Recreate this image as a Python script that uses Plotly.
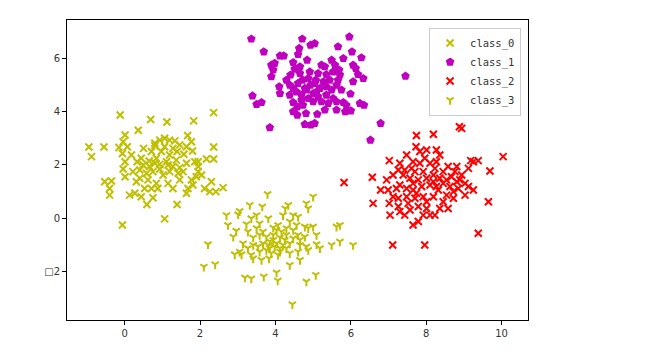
import plotly.graph_objects as go

# ---- data ----
class_0_x = [-0.12, 0.69, 1.12, 1.83, 2.36, 0.36, 0.01, -0.04, 1.67, -0.95,
             -0.88, -0.55, -0.15, 0.07, -0.06, 0.50, 0.80, 0.93, 1.06, 1.19,
             1.33, 1.46, 1.64, 1.77, 2.36, 0.97, 1.19, 1.39, 1.57, 1.80,
             1.95, 2.17, 2.36, 0.01, 0.33, 0.49, 0.65, 0.80, 0.93, 1.11,
             1.28, 1.46, 1.64, 1.86, -0.04, 0.01, 0.40, 0.58, 0.75, 0.93,
             1.19, 1.42, 1.95, 2.04, -0.53, -0.35, -0.40, -0.40, 0.40, 0.62,
             0.84, 0.88, 1.15, 1.77, 1.81, 1.68, 2.30, 2.26, 2.42, 2.61,
             0.27, 0.44, 0.75, 0.59, 1.39, 1.64, -0.06, 1.06, 0.71, 1.28,
             1.02, 0.66, 0.22, 0.44, 1.06, 1.28, 1.15, 1.95, 2.12, 1.90,
             0.18, 0.71, 1.37, 0.13, 1.46, 0.53, 0.84, 1.55, 0.31, 0.80]
class_0_y = [3.87, 3.70, 3.61, 3.65, 3.96, 3.30, 3.12, 2.87, 3.10, 2.67,
             2.31, 2.67, 2.65, 2.68, 2.43, 2.62, 2.72, 2.93, 3.00, 2.93,
             2.90, 2.75, 2.68, 2.87, 2.67, 2.50, 2.37, 2.50, 2.40, 2.52,
             2.12, 2.22, 2.22, 2.12, 2.12, 2.00, 2.15, 2.06, 2.02, 2.12,
             1.94, 1.90, 2.06, 2.12, 1.85, 1.56, 1.81, 1.69, 1.75, 1.85,
             1.75, 1.69, 1.75, 1.62, 1.37, 1.40, 1.12, 0.87, 1.50, 1.44,
             1.31, 1.12, 1.31, 1.44, 1.25, 1.12, 1.37, 1.00, 1.00, 1.15,
             0.94, 0.81, 0.77, 0.52, 0.52, 0.94, -0.25, -0.02, 1.12, 1.12,
             1.62, 1.94, 1.75, 2.25, 2.68, 2.62, 2.00, 1.94, 1.12, 1.56,
             2.37, 2.50, 2.18, 0.87, 1.44, 1.12, 2.25, 1.75, 1.37, 2.81]

class_1_x = [3.36, 4.71, 5.04, 4.93, 5.96, 5.66, 3.69, 4.12, 4.22, 4.63,
             4.60, 6.03, 6.28, 3.89, 3.98, 4.47, 4.84, 5.22, 5.31, 5.49,
             5.58, 6.06, 6.13, 3.89, 3.94, 4.40, 4.51, 4.65, 4.72, 4.87,
             5.07, 5.13, 5.35, 5.53, 5.71, 5.69, 6.19, 6.33, 7.45, 4.10,
             4.38, 4.47, 4.60, 4.78, 4.93, 5.04, 5.18, 5.35, 5.49, 5.62,
             5.66, 4.38, 4.69, 4.87, 5.00, 5.13, 5.35, 5.53, 5.62, 5.80,
             5.99, 3.39, 3.50, 3.63, 4.47, 4.58, 4.73, 5.22, 5.40, 6.24,
             6.35, 4.58, 4.81, 5.11, 5.62, 5.85, 6.00, 4.78, 5.04, 4.94,
             3.85, 6.79, 6.52, 4.69, 5.00, 5.27, 4.91, 4.56, 5.44, 5.75,
             4.29, 4.82, 5.09, 5.31, 4.47, 5.88, 4.65, 4.12, 5.80, 6.06]
class_1_y = [6.72, 6.72, 6.55, 6.49, 6.80, 6.43, 6.24, 6.09, 6.09, 6.37,
             6.14, 6.24, 6.02, 5.74, 5.81, 5.84, 5.93, 5.74, 5.68, 5.93,
             5.74, 5.74, 5.62, 5.31, 5.56, 5.37, 5.59, 5.43, 5.18, 5.24,
             5.18, 5.43, 5.39, 5.49, 5.37, 5.56, 5.39, 5.24, 5.33, 4.93,
             4.99, 4.87, 5.06, 4.87, 4.99, 5.06, 4.87, 4.93, 4.81, 4.99,
             5.18, 4.62, 4.62, 4.49, 4.68, 4.56, 4.62, 4.49, 4.37, 4.34,
             4.66, 4.59, 4.27, 4.34, 4.34, 4.18, 4.24, 4.37, 4.31, 4.31,
             4.24, 3.87, 3.93, 3.90, 4.06, 4.00, 4.03, 3.52, 3.56, 3.50,
             3.40, 3.56, 2.93, 4.43, 4.37, 5.12, 5.49, 4.74, 5.18, 4.81,
             5.18, 4.81, 4.74, 4.06, 4.00, 4.24, 5.68, 4.68, 5.99, 5.12]

class_2_x = [8.88, 8.94, 7.74, 8.19, 7.73, 8.01, 8.27, 8.36, 9.18, 9.38,
             10.04, 7.02, 7.48, 7.65, 7.83, 8.10, 7.26, 7.43, 7.61, 7.92,
             8.19, 8.45, 8.58, 8.81, 9.12, 9.69, 6.57, 6.95, 7.12, 7.57,
             7.79, 8.01, 8.36, 8.67, 8.89, 9.03, 5.82, 6.79, 6.99, 7.30,
             7.48, 7.65, 7.88, 8.10, 8.27, 8.45, 8.63, 8.85, 9.12, 9.25,
             6.59, 7.02, 7.26, 7.48, 7.70, 7.92, 8.19, 8.54, 8.72, 9.03,
             7.04, 7.30, 7.57, 7.79, 8.01, 8.23, 8.36, 7.65, 7.79, 9.65,
             7.11, 7.96, 9.38, 7.21, 7.39, 7.70, 7.96, 8.23, 8.54, 8.76,
             7.52, 8.01, 8.32, 7.74, 8.94, 9.25, 7.26, 8.45, 8.10, 7.12,
             7.83, 7.65, 8.72, 8.19, 7.92, 7.43, 8.27, 8.58, 8.81, 7.30]
class_2_y = [3.43, 3.37, 3.10, 3.15, 2.68, 2.56, 2.56, 2.37, 2.16, 2.16,
             2.31, 2.16, 2.37, 2.12, 2.06, 2.06, 1.81, 1.81, 1.87, 1.75,
             1.62, 1.75, 1.94, 1.94, 1.87, 1.77, 1.54, 1.44, 1.62, 1.50,
             1.44, 1.50, 1.50, 1.56, 1.44, 1.31, 1.34, 1.06, 1.06, 1.25,
             1.12, 1.06, 1.19, 1.25, 1.19, 1.31, 1.19, 1.12, 1.19, 1.06,
             0.56, 0.56, 0.75, 0.81, 0.75, 0.81, 0.81, 0.87, 0.75, 0.87,
             0.12, 0.25, 0.31, 0.44, 0.37, 0.12, 0.37, -0.25, -0.12, 0.62,
             -1.00, -1.00, -0.56, 1.12, 1.62, 1.75, 2.25, 1.87, 1.44, 1.75,
             0.56, 0.62, 1.06, 0.94, 1.62, 2.12, 0.44, 0.62, 0.12, 0.81,
             2.50, 1.31, 1.00, 1.37, 0.12, 0.12, 2.12, 0.37, 1.37, 2.06]

class_3_x = [3.79, 5.00, 4.82, 3.32, 3.65, 4.34, 4.26, 3.05, 2.70, 3.01,
             3.81, 4.20, 4.47, 4.60, 4.87, 2.74, 3.23, 3.36, 3.58, 4.38,
             4.56, 4.78, 5.00, 2.96, 2.88, 3.27, 3.50, 3.94, 4.03, 4.16,
             4.47, 5.62, 5.71, 3.41, 3.76, 3.94, 4.12, 4.29, 4.60, 4.78,
             5.09, 2.21, 3.14, 3.41, 3.67, 3.85, 4.03, 4.20, 4.38, 4.65,
             4.82, 5.09, 5.18, 5.49, 5.71, 6.06, 2.92, 3.10, 3.36, 3.58,
             3.76, 3.89, 4.07, 4.29, 4.60, 4.87, 3.41, 3.63, 4.65, 2.10,
             2.40, 4.38, 3.19, 3.36, 3.69, 4.03, 4.06, 4.82, 5.07, 4.45,
             3.85, 3.98, 4.12, 3.81, 3.94, 4.25, 3.54, 3.67, 4.07, 4.47,
             3.50, 3.05, 4.12, 4.87, 4.38, 3.83, 3.27, 4.29, 4.65, 3.58]
class_3_y = [0.91, 0.81, 0.56, 0.50, 0.44, 0.50, 0.37, 0.27, 0.12, 0.15,
             0.00, 0.12, 0.12, 0.06, 0.37, -0.25, -0.22, 0.00, -0.19, -0.12,
             -0.25, -0.31, -0.31, -0.47, -0.69, -0.50, -0.37, -0.35, -0.44, -0.50,
             -0.44, -0.31, -0.25, -0.72, -0.69, -0.62, -0.72, -0.62, -0.62, -0.69,
             -0.62, -0.97, -0.94, -1.00, -0.94, -0.87, -0.94, -1.00, -0.94, -1.00,
             -1.06, -0.97, -1.12, -1.00, -0.87, -1.00, -1.35, -1.35, -1.37, -1.25,
             -1.19, -1.31, -1.37, -1.12, -1.25, -1.19, -1.50, -1.56, -1.56, -1.81,
             -1.72, -1.75, -2.22, -2.25, -2.18, -2.03, -2.33, -2.37, -2.12, -3.22,
             -1.12, -1.06, -1.12, -1.00, -0.81, -0.81, -1.06, -0.50, -0.25, -0.75,
             0.12, -1.25, -1.25, -0.37, -1.31, -1.50, -1.12, -0.37, -0.81, -0.62]

x_tick_vals = [0, 2, 4, 6, 8, 10]
x_tick_text = ["0", "2", "4", "6", "8", "10"]
y_tick_vals = [-2, 0, 2, 4, 6]
y_tick_text = ["\u25a12", "0", "2", "4", "6"]

OLIVE = "rgb(191,191,0)"
MAGENTA = "rgb(191,0,191)"
RED = "rgb(255,0,0)"

fig = go.Figure()
fig.add_trace(go.Scatter(
    x=class_0_x, y=class_0_y, mode="markers", name="class_0",
    marker=dict(symbol="x-thin", size=7, color=OLIVE,
                line=dict(color=OLIVE, width=2))))
fig.add_trace(go.Scatter(
    x=class_1_x, y=class_1_y, mode="markers", name="class_1",
    marker=dict(symbol="pentagon", size=9, color=MAGENTA,
                line=dict(width=0))))
fig.add_trace(go.Scatter(
    x=class_2_x, y=class_2_y, mode="markers", name="class_2",
    marker=dict(symbol="x-thin", size=7, color=RED,
                line=dict(color=RED, width=2))))
fig.add_trace(go.Scatter(
    x=class_3_x, y=class_3_y, mode="markers", name="class_3",
    marker=dict(symbol="y-down", size=6, color=OLIVE,
                line=dict(color=OLIVE, width=2))))

axis_common = dict(
    showgrid=False, zeroline=False, showline=True, linecolor="black",
    linewidth=1, mirror=True, ticks="outside", ticklen=4, tickwidth=1,
    tickcolor="black", tickfont=dict(family="DejaVu Sans", size=10, color="#333"),
)

fig.update_layout(
    width=659, height=364,
    margin=dict(l=59, r=139, t=12, b=52),
    paper_bgcolor="white", plot_bgcolor="white",
    showlegend=True,
    legend=dict(
        x=0.985, y=0.975, xanchor="right", yanchor="top",
        bgcolor="rgba(255,255,255,0.8)", bordercolor="#cccccc", borderwidth=1,
        font=dict(family="DejaVu Sans Mono", size=10.5, color="#333"),
        tracegroupgap=0,
    ),
    xaxis=dict(range=[-1.53, 10.70], tickvals=x_tick_vals, ticktext=x_tick_text,
               **axis_common),
    yaxis=dict(range=[-3.81, 7.43], tickvals=y_tick_vals, ticktext=y_tick_text,
               **axis_common),
)

fig.write_html("out.html")
